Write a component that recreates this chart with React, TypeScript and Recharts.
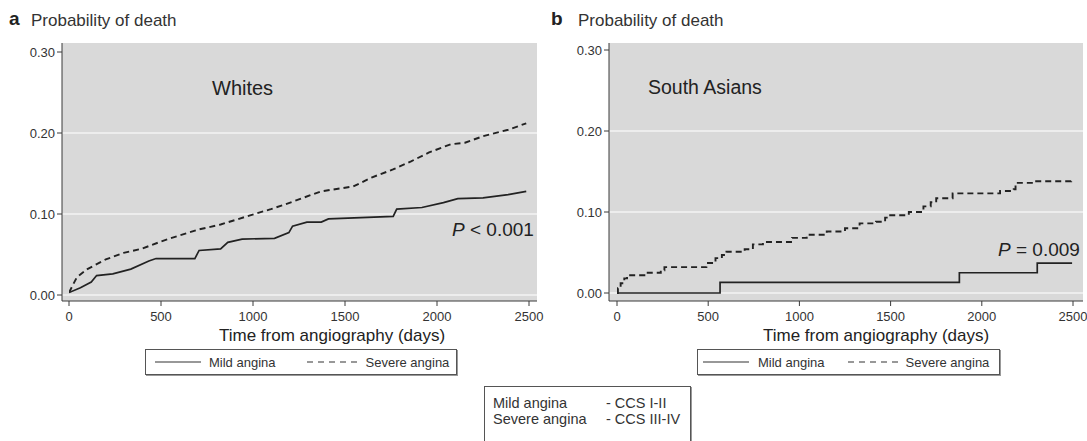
import { LineChart, Line, XAxis, YAxis, CartesianGrid } from "recharts"

const DAY_TICKS = [0, 500, 1000, 1500, 2000, 2500]
const PROB_TICKS = [0, 0.1, 0.2, 0.3]
const GRID_VALUES = [0, 0.1, 0.2]

// panel a - Whites
const WHITES_MILD_DAYS = [0, 62, 121, 150, 238, 336, 434, 473, 684, 707, 824, 863, 941, 1117, 1195, 1215, 1293, 1371, 1410, 1762, 1781, 1918, 2035, 2113, 2250, 2387, 2485]
const WHITES_MILD_PROB = [0.003, 0.009, 0.016, 0.024, 0.026, 0.032, 0.042, 0.045, 0.045, 0.055, 0.057, 0.065, 0.069, 0.07, 0.077, 0.085, 0.09, 0.09, 0.094, 0.097, 0.106, 0.108, 0.114, 0.119, 0.12, 0.124, 0.128]
const WHITES_SEVERE_DAYS = [0, 43, 100, 200, 297, 394, 500, 592, 707, 824, 980, 1097, 1176, 1273, 1371, 1545, 1644, 1761, 1859, 1957, 2074, 2152, 2250, 2387, 2485]
const WHITES_SEVERE_PROB = [0.003, 0.022, 0.032, 0.044, 0.052, 0.057, 0.066, 0.073, 0.081, 0.087, 0.098, 0.106, 0.112, 0.12, 0.128, 0.134, 0.145, 0.155, 0.165, 0.176, 0.186, 0.188, 0.196, 0.204, 0.212]

// panel b - South Asians
const SA_MILD_DAYS = [0, 565, 1877, 2304, 2495]
const SA_MILD_PROB = [0, 0.013, 0.025, 0.037, 0.037]
const SA_SEVERE_DAYS = [0, 5, 20, 40, 55, 150, 240, 260, 490, 540, 575, 600, 700, 745, 800, 960, 1040, 1150, 1250, 1330, 1420, 1470, 1490, 1600, 1680, 1720, 1750, 1840, 2100, 2175, 2185, 2280, 2490]
const SA_SEVERE_PROB = [0, 0.006, 0.012, 0.018, 0.022, 0.025, 0.028, 0.032, 0.037, 0.043, 0.047, 0.051, 0.054, 0.06, 0.063, 0.068, 0.072, 0.076, 0.08, 0.086, 0.088, 0.093, 0.096, 0.1, 0.107, 0.112, 0.117, 0.123, 0.126, 0.128, 0.136, 0.138, 0.139]

const zip = (days: number[], prob: number[]) => days.map((d, i) => ({ day: d, p: prob[i] }))

const FONT = "'Liberation Sans', Arial, Helvetica, sans-serif"
const INK = "#222"
const AXIS = "#3a3a3a"

type PanelProps = {
    left: number
    width: number
    margin: { top: number; right: number; bottom: number; left: number }
    xPad: { left: number; right: number }
    yPad: { top: number; bottom: number }
    mild: { day: number; p: number }[]
    severe: { day: number; p: number }[]
    curve: "linear" | "stepAfter"
}

function Panel({ left, width, margin, xPad, yPad, mild, severe, curve }: PanelProps) {
    return (
        <div style={{ position: "absolute", left, top: 0 }}>
            <LineChart width={width} height={340} margin={margin}>
                <CartesianGrid
                    vertical={false}
                    fill="#d9d9d9"
                    fillOpacity={1}
                    stroke="#f3f3f3"
                    strokeWidth={1.5}
                    horizontalValues={GRID_VALUES}
                />
                <XAxis
                    dataKey="day"
                    type="number"
                    domain={[0, 2500]}
                    ticks={DAY_TICKS}
                    padding={xPad}
                    height={30}
                    stroke={AXIS}
                    tickSize={5}
                    tickMargin={6}
                    tick={{ fill: "#333", fontSize: 13, fontFamily: FONT }}
                    allowDataOverflow
                />
                <YAxis
                    type="number"
                    domain={[0, 0.3]}
                    ticks={PROB_TICKS}
                    padding={yPad}
                    width={40}
                    stroke={AXIS}
                    tickSize={5}
                    tickMargin={2}
                    tick={{ fill: "#333", fontSize: 13, fontFamily: FONT }}
                    tickFormatter={(v: number) => v.toFixed(2)}
                />
                <Line
                    data={mild}
                    dataKey="p"
                    type={curve}
                    stroke={INK}
                    strokeWidth={1.7}
                    dot={false}
                    isAnimationActive={false}
                />
                <Line
                    data={severe}
                    dataKey="p"
                    type={curve}
                    stroke={INK}
                    strokeWidth={1.9}
                    strokeDasharray="6 4"
                    dot={false}
                    isAnimationActive={false}
                />
            </LineChart>
        </div>
    )
}

type LegendProps = {
    left: number
    width: number
    gaps: [number, number, number, number]
}

function LegendBox({ left, width, gaps }: LegendProps) {
    const item: React.CSSProperties = { whiteSpace: "nowrap", flexShrink: 0 }
    return (
        <div
            style={{
                position: "absolute",
                left,
                top: 349,
                width,
                height: 26,
                border: "1px solid #555",
                boxShadow: "1px 1px 0 #999",
                fontSize: 13,
                color: "#333",
                display: "flex",
                alignItems: "center",
                boxSizing: "border-box",
                overflow: "hidden",
            }}
        >
            <svg width={46} height={6} style={{ ...item, marginLeft: gaps[0] }}>
                <line x1={0} y1={3} x2={46} y2={3} stroke="#333" strokeWidth={1.2} />
            </svg>
            <span style={{ ...item, marginLeft: gaps[1] }}>Mild angina</span>
            <svg width={50} height={6} style={{ ...item, marginLeft: gaps[2] }}>
                <line x1={0} y1={3} x2={50} y2={3} stroke="#333" strokeWidth={1.2} strokeDasharray="6 5" />
            </svg>
            <span style={{ ...item, marginLeft: gaps[3] }}>Severe angina</span>
        </div>
    )
}

const abs = (left: number, top: number, extra: React.CSSProperties = {}): React.CSSProperties => ({
    position: "absolute",
    left,
    top,
    whiteSpace: "nowrap",
    lineHeight: 1,
    ...extra,
})

export default function App() {
    return (
        <div
            style={{
                position: "absolute",
                left: 0,
                top: 0,
                width: 1087,
                height: 441,
                background: "#fff",
                fontFamily: FONT,
                color: "#222",
                overflow: "hidden",
            }}
        >
            <Panel
                left={0}
                width={545}
                margin={{ top: 43, right: 8, bottom: 9, left: 22 }}
                xPad={{ left: 7, right: 8 }}
                yPad={{ top: 9, bottom: 6 }}
                mild={zip(WHITES_MILD_DAYS, WHITES_MILD_PROB)}
                severe={zip(WHITES_SEVERE_DAYS, WHITES_SEVERE_PROB)}
                curve="linear"
            />
            <Panel
                left={560}
                width={527}
                margin={{ top: 43, right: 4, bottom: 9, left: 9 }}
                xPad={{ left: 8, right: 10 }}
                yPad={{ top: 7, bottom: 8 }}
                mild={zip(SA_MILD_DAYS, SA_MILD_PROB)}
                severe={zip(SA_SEVERE_DAYS, SA_SEVERE_PROB)}
                curve="stepAfter"
            />

            {/* panel titles */}
            <div style={abs(9, 9, { fontSize: 19, fontWeight: "bold" })}>a</div>
            <div style={abs(31, 12, { fontSize: 17, color: "#333" })}>Probability of death</div>
            <div style={abs(551, 9, { fontSize: 19, fontWeight: "bold" })}>b</div>
            <div style={abs(578, 12, { fontSize: 17, color: "#333" })}>Probability of death</div>

            {/* in-plot labels */}
            <div style={abs(212, 78, { fontSize: 20 })}>Whites</div>
            <div style={abs(648, 78, { fontSize: 19.5 })}>South Asians</div>
            <div style={abs(452, 220, { fontSize: 19 })}>
                <i>P</i> &lt; 0.001
            </div>
            <div style={abs(998, 240, { fontSize: 19 })}>
                <i>P</i> = 0.009
            </div>

            {/* axis titles */}
            <div style={abs(219, 327, { fontSize: 17 })}>Time from angiography (days)</div>
            <div style={abs(763, 327, { fontSize: 17 })}>Time from angiography (days)</div>

            <LegendBox left={145} width={312} gaps={[9, 8, 31, 9]} />
            <LegendBox left={697} width={303} gaps={[5, 9, 23, 8]} />

            {/* abbreviation key */}
            <div
                style={{
                    position: "absolute",
                    left: 484,
                    top: 386,
                    width: 207,
                    height: 70,
                    border: "1px solid #555",
                    boxShadow: "1px 1px 0 #999",
                    boxSizing: "border-box",
                    fontSize: 14.5,
                    color: "#333",
                }}
            >
                <div style={abs(8, 9)}>Mild angina</div>
                <div style={abs(121, 9)}>- CCS I-II</div>
                <div style={abs(8, 25)}>Severe angina</div>
                <div style={abs(121, 25)}>- CCS III-IV</div>
            </div>
        </div>
    )
}
